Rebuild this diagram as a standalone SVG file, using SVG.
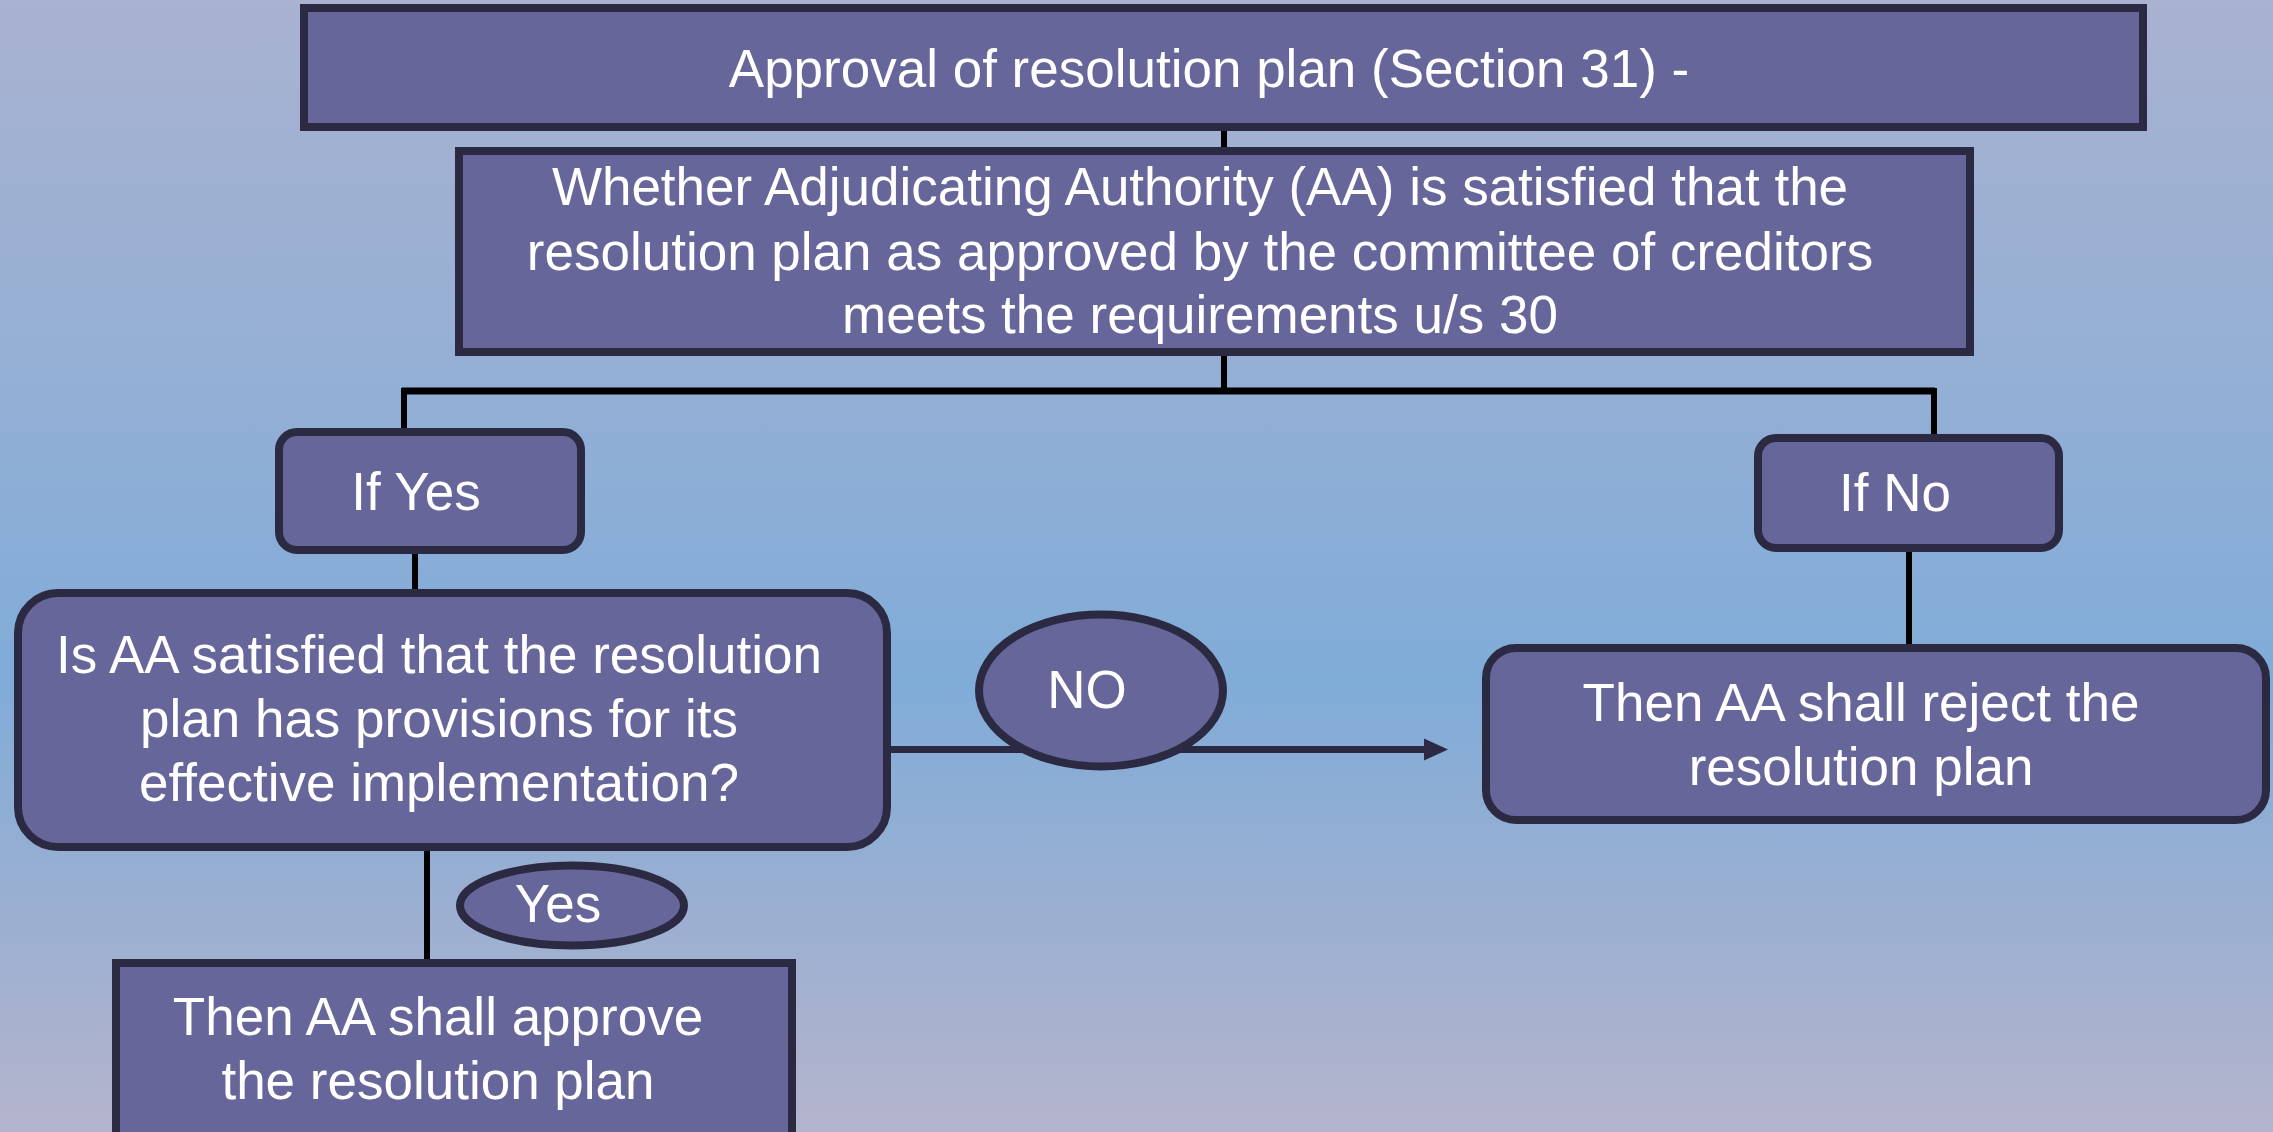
<svg xmlns="http://www.w3.org/2000/svg" width="2273" height="1132" viewBox="0 0 2273 1132">
  <defs>
    <linearGradient id="bg" x1="0" y1="0" x2="0" y2="1">
      <stop offset="0" stop-color="#a9b2d0"/>
      <stop offset="0.35" stop-color="#93afd5"/>
      <stop offset="0.6" stop-color="#80acd8"/>
      <stop offset="0.8" stop-color="#9aafd1"/>
      <stop offset="1" stop-color="#b5b4cd"/>
    </linearGradient>
    <marker id="arrow" markerWidth="10" markerHeight="10" refX="0" refY="5" orient="auto" markerUnits="userSpaceOnUse" viewBox="0 0 10 10">
      <path d="M0,0 L10,5 L0,10 Z" fill="#2b2a42"/>
    </marker>
    <style>
      .box { fill: #66669a; stroke: #2b2a42; stroke-width: 8; }
      .txt { fill: #ffffff; font-family: "Liberation Sans", Arial, sans-serif; font-size: 53px; text-anchor: middle; }
      .conn { stroke: #000000; stroke-width: 6; fill: none; }
      .conn2 { stroke: #2b2a42; stroke-width: 7; fill: none; }
    </style>
  </defs>
  <rect x="0" y="0" width="2273" height="1132" fill="url(#bg)"/>

  <g id="connectors">
    <line class="conn" x1="1224" y1="127" x2="1224" y2="165"/>
    <line class="conn" x1="1224" y1="352" x2="1224" y2="391"/>
    <line class="conn" x1="402" y1="391" x2="1935" y2="391" style="stroke-width:7"/>
    <line class="conn" x1="404" y1="388" x2="404" y2="430"/>
    <line class="conn" x1="1934" y1="388" x2="1934" y2="436"/>
    <line class="conn" x1="415" y1="550" x2="415" y2="592"/>
    <line class="conn" x1="427" y1="847" x2="427" y2="963"/>
    <line class="conn" x1="1909" y1="548" x2="1909" y2="648"/>
    <line class="conn2" x1="887" y1="749.5" x2="1426" y2="749.5"/>
    <path d="M1424,738.5 L1448,749.5 L1424,760.5 Z" fill="#2b2a42"/>
  </g>

  <g id="title">
    <rect class="box" x="304" y="8" width="1839" height="119"/>
    <text class="txt" x="1209" y="87">Approval of resolution plan (Section 31) -</text>
  </g>

  <g id="question1">
    <rect class="box" x="459" y="151" width="1511" height="201"/>
    <text class="txt" x="1200" y="205">Whether Adjudicating Authority (AA) is satisfied that the</text>
    <text class="txt" x="1200" y="270">resolution plan as approved by the committee of creditors</text>
    <text class="txt" x="1200" y="333">meets the requirements u/s 30</text>
  </g>

  <g id="ifyes">
    <rect class="box" x="279" y="432" width="302" height="118" rx="18" ry="18"/>
    <text class="txt" x="416" y="510">If Yes</text>
  </g>

  <g id="ifno">
    <rect class="box" x="1758" y="438" width="301" height="110" rx="18" ry="18"/>
    <text class="txt" x="1895" y="511">If No</text>
  </g>

  <g id="question2">
    <rect class="box" x="18" y="593" width="869" height="254" rx="40" ry="40"/>
    <text class="txt" x="439" y="673">Is AA satisfied that the resolution</text>
    <text class="txt" x="439" y="737">plan has provisions for its</text>
    <text class="txt" x="439" y="801">effective implementation?</text>
  </g>

  <g id="no-label">
    <ellipse class="box" cx="1101" cy="690.5" rx="122" ry="76"/>
    <text class="txt" x="1087" y="708">NO</text>
  </g>

  <g id="reject">
    <rect class="box" x="1486" y="648" width="780" height="172" rx="30" ry="30"/>
    <text class="txt" x="1861" y="721">Then AA shall reject the</text>
    <text class="txt" x="1861" y="785">resolution plan</text>
  </g>

  <g id="yes-label">
    <ellipse class="box" cx="572" cy="905.5" rx="112" ry="40"/>
    <text class="txt" x="558" y="922">Yes</text>
  </g>

  <g id="approve">
    <rect class="box" x="116" y="963" width="676" height="200"/>
    <text class="txt" x="438" y="1035">Then AA shall approve</text>
    <text class="txt" x="438" y="1099">the resolution plan</text>
  </g>
</svg>
